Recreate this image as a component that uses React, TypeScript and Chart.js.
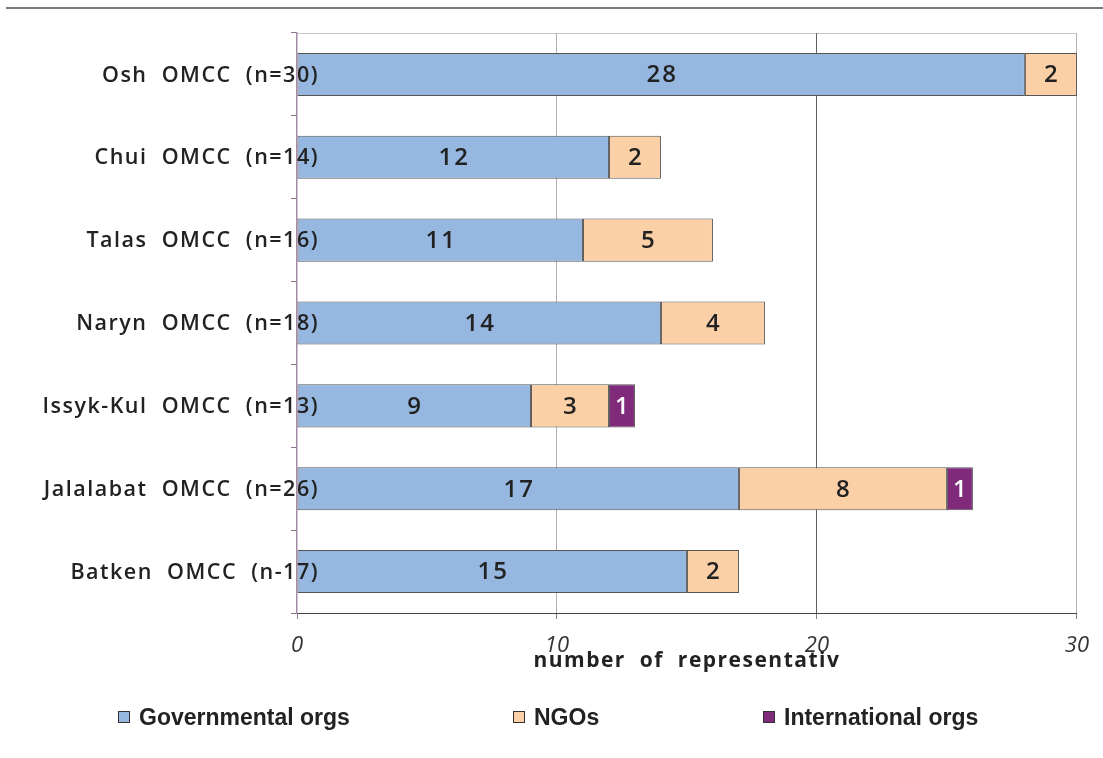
import React, { useEffect, useRef } from "react";
import { Chart, registerables } from "chart.js";

Chart.register(...registerables);

const categories = [
  "Osh  OMCC  (n=30)",
  "Chui  OMCC  (n=14)",
  "Talas  OMCC  (n=16)",
  "Naryn  OMCC  (n=18)",
  "Issyk-Kul  OMCC  (n=13)",
  "Jalalabat  OMCC  (n=26)",
  "Batken  OMCC  (n-17)",
];
const governmental = [28, 12, 11, 14, 9, 17, 15];
const ngos = [2, 2, 5, 4, 3, 8, 2];
const international = [0, 0, 0, 0, 1, 1, 0];
const seriesNames = ["Governmental orgs", "NGOs", "International orgs"];
const seriesColors = ["#95B7E0", "#FCD0A6", "#802A7C"];
const xTicks = [0, 10, 20, 30];
const xTitle = "number  of  representativ";

const LABEL_FONT = "600 21.5px 'Open Sans'";

const decorPlugin = {
  id: "decor",
  beforeDraw(chart: any) {
    const ctx = chart.ctx;
    const { left, right, top } = chart.chartArea;
    ctx.save();
    // header rule
    ctx.strokeStyle = "#7a7a7a";
    ctx.lineWidth = 2;
    ctx.beginPath();
    ctx.moveTo(6, 8);
    ctx.lineTo(chart.width, 8);
    ctx.stroke();
    // plot top edge
    ctx.strokeStyle = "#c8c8c8";
    ctx.lineWidth = 1;
    ctx.beginPath();
    ctx.moveTo(left, top + 0.5);
    ctx.lineTo(right, top + 0.5);
    ctx.stroke();
    ctx.restore();
  },
  afterDatasetsDraw(chart: any) {
    const ctx = chart.ctx;
    const yScale = chart.scales.y;
    const xScale = chart.scales.x;
    ctx.save();
    // value labels inside segments
    ctx.font = "600 24px 'Open Sans'";
    (ctx as any).letterSpacing = "2px";
    ctx.textAlign = "center";
    ctx.textBaseline = "middle";
    chart.data.datasets.forEach((ds: any, di: number) => {
      const meta = chart.getDatasetMeta(di);
      meta.data.forEach((bar: any, i: number) => {
        const v = ds.data[i];
        if (!v) return;
        const cx = (bar.x + bar.base) / 2;
        ctx.fillStyle = di === 2 ? "#ffffff" : "#222222";
        ctx.fillText(String(v), cx + 1, bar.y + 1);
      });
    });
    // category labels
    ctx.font = LABEL_FONT;
    (ctx as any).letterSpacing = "1.5px";
    ctx.textAlign = "right";
    ctx.fillStyle = "#222222";
    categories.forEach((c, i) => {
      ctx.fillText(c, 319, yScale.getPixelForValue(i) + 1);
    });
    // axis title
    ctx.font = "bold 21px 'Open Sans'";
    (ctx as any).letterSpacing = "1.5px";
    ctx.textAlign = "center";
    ctx.textBaseline = "alphabetic";
    ctx.fillText(xTitle, (xScale.left + xScale.right) / 2, 667);
    // legend
    (ctx as any).letterSpacing = "0px";
    ctx.font = "bold 23px 'Liberation Sans'";
    ctx.textAlign = "left";
    ctx.textBaseline = "middle";
    const legendX = [118, 513, 763];
    const legendY = 717;
    seriesNames.forEach((name, i) => {
      ctx.fillStyle = seriesColors[i];
      ctx.fillRect(legendX[i], legendY - 6, 12, 12);
      ctx.strokeStyle = "#333333";
      ctx.lineWidth = 1;
      ctx.strokeRect(legendX[i] + 0.5, legendY - 5.5, 11, 11);
      ctx.fillStyle = "#222222";
      ctx.fillText(name, legendX[i] + 21, legendY + 2);
    });
    ctx.restore();
  },
};

export default function App() {
  const canvasRef = useRef<HTMLCanvasElement | null>(null);

  useEffect(() => {
    if (!canvasRef.current) return;
    const data = [governmental, ngos, international];
    const chart = new Chart(canvasRef.current, {
      type: "bar",
      data: {
        labels: categories,
        datasets: seriesNames.map((name, i) => ({
          label: name,
          data: data[i],
          backgroundColor: seriesColors[i],
          borderColor: "#555555",
          borderWidth: 1,
          borderSkipped: false,
          barPercentage: 0.52,
          categoryPercentage: 1,
        })),
      },
      options: {
        indexAxis: "y",
        animation: false,
        responsive: true,
        maintainAspectRatio: false,
        layout: { padding: { top: 33, right: 25, left: 0, bottom: 0 } },
        plugins: {
          legend: { display: false },
          tooltip: { enabled: false },
        },
        scales: {
          x: {
            type: "linear",
            stacked: true,
            min: 0,
            max: 30,
            afterBuildTicks: (scale: any) => {
              scale.ticks = xTicks.map((v) => ({ value: v }));
            },
            afterFit: (scale: any) => {
              scale.height = 145;
            },
            ticks: {
              font: { family: "'Open Sans'", size: 22, style: "italic", weight: "400" },
              color: "#333333",
              padding: 14,
            },
            grid: {
              color: (c: any) =>
                c.tick && c.tick.value === 20 ? "#606060" : c.tick && c.tick.value === 0 ? "rgba(0,0,0,0)" : "#b0b0b0",
              tickLength: 6,
              tickColor: "#808080",
            },
            border: { color: "#444444", width: 1 },
          },
          y: {
            type: "category",
            stacked: true,
            offset: true,
            afterFit: (scale: any) => {
              scale.width = 297;
            },
            ticks: { display: false },
            grid: {
              offset: true,
              drawOnChartArea: false,
              tickLength: 6,
              color: "#8c708c",
            },
            border: { color: "#a58aa5", width: 1.5 },
          },
        },
      },
      plugins: [decorPlugin],
    });
    return () => chart.destroy();
  }, []);

  return (
    <div style={{ position: "absolute", left: 0, top: 0, width: 1103, height: 758, background: "#ffffff" }}>
      <canvas ref={canvasRef} />
    </div>
  );
}
